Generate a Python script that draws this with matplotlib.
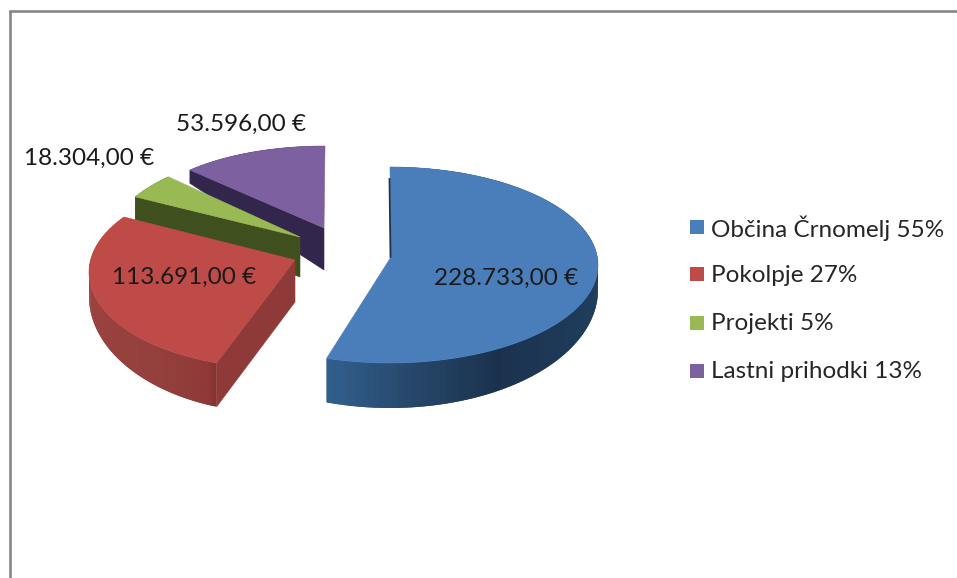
import numpy as np
import matplotlib
matplotlib.use('Agg')
import matplotlib.pyplot as plt
from matplotlib.colors import to_rgb
from matplotlib.patches import Rectangle

plt.rcParams['font.family'] = ['Lato', 'DejaVu Sans']

# Dane
values = [228733, 113691, 18304, 53596]
value_labels = ['228.733,00 €', '113.691,00 €', '18.304,00 €', '53.596,00 €']
legend_labels = ['Občina Črnomelj 55%', 'Pokolpje 27%', 'Projekti 5%', 'Lastni prihodki 13%']

# Wyglad kawalkow (perspektywa ukladana recznie dla kazdego)
top_colors = ['#4a7ebb', '#be4b48', '#98b954', '#7d60a0']
cut_colors = ['#1b3350', '#8e3a38', '#404f1e', '#32264d']
rim_stops = [[(326, '#33608f'), (420, '#264668'), (500, '#1b324e'), (598, '#1f3d5c')],
             [(89, '#9a4240'), (160, '#93403d'), (208, '#8f3a38'), (217, '#833432')],
             [(100, '#404f1e'), (320, '#404f1e')],
             [(170, '#32264d'), (330, '#32264d')]]
apex = [(391, 257), (295, 260), (300, 237), (324, 228)]
center = [(390, 265), (277, 272.5), (318, 238), (325, 223)]
radius = [(208, 98), (188, 95.5), (206, 89), (186, 77)]
warp = [(0, -1), (0, 8), (0, 0), (0, 0)]
apex_depth = [40, 42, 40, 42]
rim_depth = [(25, 20), (24, 21), (32, 20), (27, 20)]
has_cut_face = [False, True, True, True]
value_pos = [(506, 278), (184, 277), (89, 158), (241, 124)]
legend_y = [228, 275, 324, 372]


def rim_color(x, stops):
    xs = [s[0] for s in stops]
    rgb = np.array([to_rgb(s[1]) for s in stops])
    return [np.interp(x, xs, rgb[:, c]) for c in range(3)]


fig = plt.figure(figsize=(9.57, 5.78), dpi=100)
ax = fig.add_axes([0, 0, 1, 1])
ax.set_xlim(0, 957)
ax.set_ylim(578, 0)
ax.axis('off')

# ramka wykresu
ax.plot([9.5, 9.5, 957], [578, 10.5, 10.5], color='#868686', lw=1.9, solid_joinstyle='miter')

fractions = np.array(values) / sum(values)
edges = np.concatenate([[0], np.cumsum(fractions)]) * 360

# od tylu do przodu
for i in [3, 2, 1, 0]:
    th = np.radians(np.linspace(edges[i] + warp[i][0], edges[i + 1] + warp[i][1], 120))
    cx, cy = center[i]
    rx, ry = radius[i]
    x = cx + rx * np.sin(th)
    y = cy - ry * np.cos(th)
    d = rim_depth[i][0] - rim_depth[i][1] * np.cos(th)
    px, py = apex[i]
    base = 40 - i * 10

    # bok: paski zachodza na siebie, zeby nie bylo widac szwow
    for k in range(len(th) - 1):
        k2 = min(k + 2, len(th) - 1)
        col = rim_color(x[k], rim_stops[i])
        ax.fill([x[k], x[k2], x[k2], x[k]],
                [y[k], y[k2], y[k2] + d[k2], y[k] + d[k]],
                color=col, lw=0, zorder=base + k * 0.001)

    # sciana przekroju
    if has_cut_face[i]:
        ax.fill([x[0], px, px, x[0]], [y[0], py, py + apex_depth[i], y[0] + d[0]],
                color=cut_colors[i], lw=0.4, zorder=base + 1)

    # wierzch
    ax.fill(np.r_[px, x], np.r_[py, y], color=top_colors[i], lw=0.4, zorder=base + 2)

# cienka ciemna krawedz niebieskiego przekroju
ax.plot([center[0][0] - 0.5, apex[0][0] - 0.5],
        [center[0][1] - radius[0][1] + 12, apex[0][1]],
        color=cut_colors[0], lw=1.3, zorder=43)

for label, pos in zip(value_labels, value_pos):
    ax.text(pos[0], pos[1], label, fontsize=17.5, color='#1a1a1a', ha='center', va='center', zorder=60)

for label, col, ly in zip(legend_labels, top_colors, legend_y):
    ax.add_patch(Rectangle((690, ly - 8), 14, 14, color=col, lw=0, zorder=60))
    ax.text(711, ly, label, fontsize=17.5, color='#262626', ha='left', va='center', zorder=60)

fig.savefig('out.png', dpi=100)
